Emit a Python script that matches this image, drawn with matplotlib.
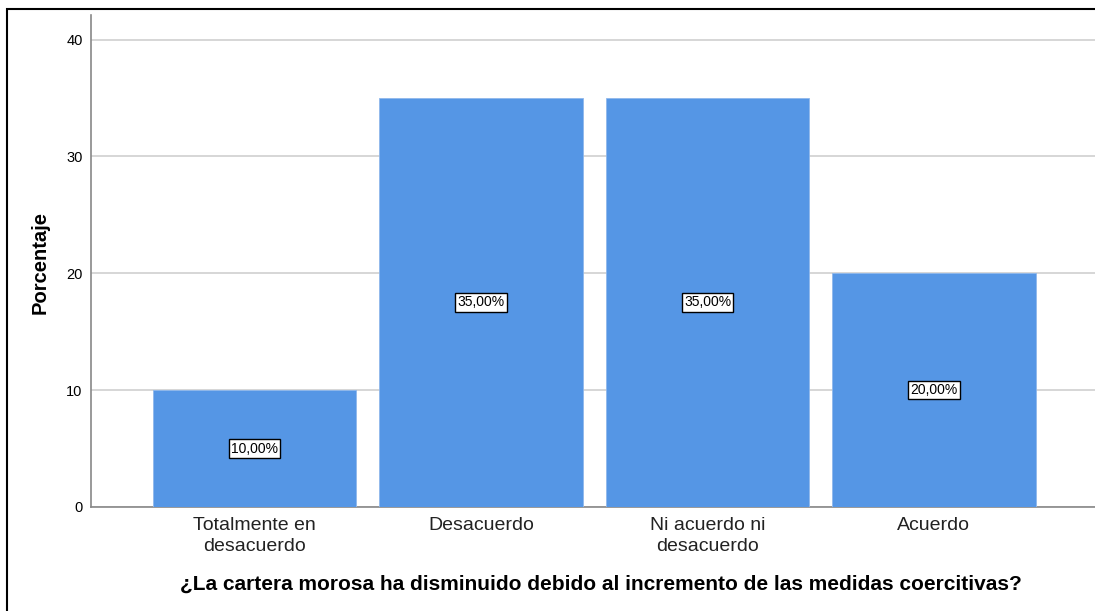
import matplotlib
matplotlib.use("Agg")
import matplotlib.pyplot as plt
from matplotlib.patches import Rectangle

plt.rcParams['font.family'] = ['Liberation Sans', 'DejaVu Sans']

categorias = ["Totalmente en\ndesacuerdo", "Desacuerdo", "Ni acuerdo ni\ndesacuerdo", "Acuerdo"]
porcentajes = [10.0, 35.0, 35.0, 20.0]
etiquetas = ["10,00%", "35,00%", "35,00%", "20,00%"]
yticks = [0, 10, 20, 30, 40]

fig = plt.figure(figsize=(10.95, 6.11), dpi=100)
fig.patch.set_facecolor('white')
ax_w = 1 - 91/1095 + 0.01
ax = fig.add_axes([91/1095, 1 - 507/611, ax_w, (507 - 15)/611])

pos = list(range(len(categorias)))
ax.bar(pos, porcentajes, width=0.898, color='#5596e5', edgecolor='#8fb8ec', linewidth=0.6, zorder=3)
for p, v, t in zip(pos, porcentajes, etiquetas):
    ax.text(p, v / 2, t, ha='center', va='center', fontsize=10, zorder=4,
            bbox=dict(boxstyle='square,pad=0.15', fc='white', ec='black', lw=1.0))

ax.set_xlim(-0.723, 3.76)
ax.set_ylim(0, 42.1)
ax.set_yticks(yticks)
ax.set_xticks(pos)
ax.set_xticklabels(categorias, fontsize=14, color='#222222', linespacing=1.3)
ax.tick_params(axis='y', length=0, labelsize=10.5, pad=6)
ax.tick_params(axis='x', length=0, pad=7)
ax.yaxis.grid(True, color='#cfcfcf', linewidth=1.2, zorder=0)
ax.set_axisbelow(True)
for s in ['top', 'right']:
    ax.spines[s].set_visible(False)
ax.spines['left'].set_color('#888888')
ax.spines['bottom'].set_color('#888888')
ax.spines['left'].set_linewidth(1.2)
ax.spines['bottom'].set_linewidth(1.2)

ax.set_ylabel('Porcentaje', fontsize=14.5, fontweight='bold')
ax.yaxis.set_label_coords(-(91 - 50) / (ax_w * 1095), (507 - 263) / 492)
ax.set_xlabel('¿La cartera morosa ha disminuido debido al incremento de las medidas coercitivas?',
              fontsize=15, fontweight='bold')
ax.xaxis.set_label_coords((601 - 91) / (ax_w * 1095), -(575 - 507) / 492)

fig.patches.append(Rectangle((7/1095, -0.1), 1.2, 1 - 9/611 + 0.1, transform=fig.transFigure,
                             fill=False, edgecolor='black', linewidth=1.5, zorder=10))

fig.savefig('out.png', dpi=100)
